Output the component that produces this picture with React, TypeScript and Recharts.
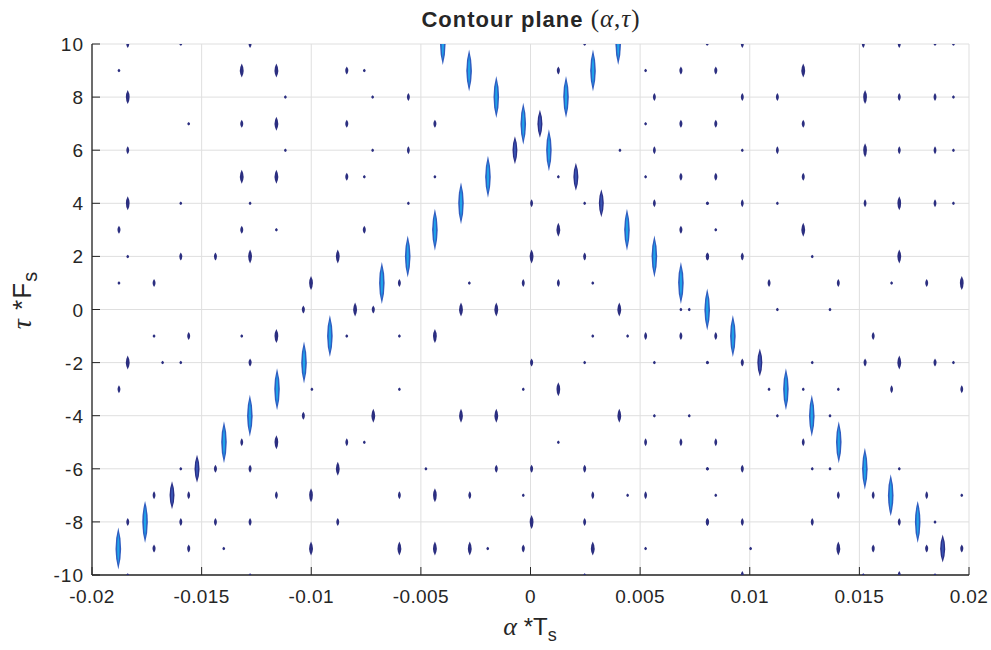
import React from 'react';
import { ScatterChart, Scatter, XAxis, YAxis, CartesianGrid } from 'recharts';

// ── Ejes ──────────────────────────────────────────────────────────────────────
const X_TICKS = [-0.02, -0.015, -0.01, -0.005, 0, 0.005, 0.01, 0.015, 0.02];
const Y_TICKS = [-10, -8, -6, -4, -2, 0, 2, 4, 6, 8, 10];

// ── Contornos [alpha*Ts, tau*Fs] ─────────────────────────────────────────────
// picos grandes (azul claro) sobre la "V"
const ridgeBright: [number, number][] = [
  [-0.0188, -9], [-0.01758, -8], [-0.01398, -5], [-0.0128, -4], [-0.01156, -3],
  [-0.01033, -2], [-0.00915, -1], [-0.00678, 1], [-0.0056, 2], [-0.00436, 3],
  [-0.00317, 4], [-0.00194, 5], [-0.00033, 7], [-0.00156, 8], [-0.0028, 9], [-0.004, 10],
  [0.00084, 6], [0.0044, 3], [0.00565, 2], [0.00686, 1], [0.00806, 0], [0.00923, -1],
  [0.01165, -3], [0.01283, -4], [0.01406, -5], [0.01525, -6], [0.01643, -7], [0.01766, -8],
  [0.00162, 8], [0.00285, 9], [0.004, 10],
];

// picos oscuros más cortos
const ridgeDark: [number, number][] = [
  [-0.01635, -7], [-0.01521, -6], [-0.00071, 6], [0.00043, 7],
  [0.00207, 5], [0.00323, 4], [0.01046, -2], [0.0188, -9],
];

const mediumMarks: [number, number][] = [
  [-0.01317, 9], [-0.01159, 9], [-0.01837, 8], [-0.01159, 7], [-0.01317, 5], [-0.01159, 5],
  [-0.01837, 4], [-0.01279, 2], [-0.00879, 2], [-0.01001, 1], [-0.008, 0],
  [0.00005, 2], [0.00127, 3],
  [-0.00317, 0], [-0.00156, 0], [0.00405, 0], [-0.00436, -1], [0.00127, -3],
  [-0.00317, -4], [-0.00156, -4], [0.00405, -4], [-0.00436, -7], [0.00005, -8],
  [-0.00598, -9], [-0.00436, -9], [-0.00277, -9], [0.00284, -9],
  [-0.01159, -1], [-0.01837, -2], [-0.00717, -4], [-0.01159, -5], [-0.00879, -6],
  [-0.01001, -7], [-0.01001, -9],
  [0.01244, 9], [0.01526, 8], [0.01526, 6], [0.01682, 4], [0.01244, 3], [0.01682, 2],
  [0.01967, 1], [0.01682, -2], [0.01404, -9],
];

const smallMarks: [number, number][] = [
  [-0.01837, 10], [-0.01279, 10], [-0.00838, 9], [-0.00838, 7], [-0.01317, 7], [-0.01837, 6],
  [-0.00838, 5], [-0.01877, 3], [-0.01317, 3], [-0.00758, 3], [-0.01595, 2], [-0.01437, 2],
  [-0.01717, 1], [-0.01036, 0], [-0.00717, 0],
  [0.00127, 9], [0.00686, 9], [-0.00557, 8], [0.00565, 8], [-0.00436, 7], [0.00686, 7],
  [-0.00557, 6], [0.00565, 6], [0.00686, 5], [0.00005, 4], [0.00565, 4], [0.00686, 3],
  [0.00247, 2], [0.00808, 2], [-0.00598, 1], [-0.00033, 1], [0.00127, 1],
  [0.00525, -1], [0.00686, -1], [0.00005, -2], [0.00525, -5], [0.00686, -5],
  [-0.00156, -6], [0.00005, -6], [0.00247, -6], [-0.00598, -7], [-0.00277, -7],
  [0.00284, -7], [0.00525, -7], [0.00247, -8], [0.00808, -8], [-0.00033, -9],
  [-0.01559, -1], [-0.01279, -2], [-0.01877, -3], [-0.01036, -4], [-0.01317, -5],
  [-0.00838, -5], [-0.01437, -6], [-0.01279, -6], [-0.01717, -7], [-0.01559, -7],
  [-0.01159, -7], [-0.01837, -8], [-0.01595, -8], [-0.01437, -8], [-0.01279, -8],
  [-0.00879, -8], [-0.01717, -9], [-0.01559, -9],
  [0.00966, 10], [0.01518, 10], [0.01682, 10], [0.00845, 9], [0.00966, 8], [0.01126, 8],
  [0.01682, 8], [0.01845, 8], [0.00845, 7], [0.01244, 7], [0.01126, 6], [0.01682, 6],
  [0.01845, 6], [0.00845, 5], [0.01244, 5], [0.00966, 4], [0.01526, 4], [0.01845, 4],
  [0.00806, 2], [0.00966, 2], [0.01088, 1], [0.01404, 1], [0.01807, 1],
  [0.00845, -1], [0.01563, -1], [0.00966, -2], [0.01526, -2], [0.01845, -2],
  [0.01647, -3], [0.01967, -3], [0.00845, -5], [0.01244, -5], [0.00966, -6],
  [0.01404, -7], [0.01563, -7], [0.01807, -7], [0.00806, -8], [0.00966, -8],
  [0.01285, -8], [0.01682, -8], [0.01563, -9], [0.01807, -9], [0.01967, -9],
  [0.00966, -10], [0.01682, -10],
];

const tinyMarks: [number, number][] = [
  [-0.01595, 10], [-0.01877, 9], [-0.00758, 9], [-0.01118, 8], [-0.0072, 8], [-0.01559, 7],
  [-0.01118, 6], [-0.0072, 6], [-0.00758, 5], [-0.01595, 4], [-0.01279, 4], [-0.01159, 3],
  [-0.01837, 2], [-0.01877, 1],
  [0.00247, 10], [0.00525, 9], [0.00525, 7], [0.00408, 6], [-0.00436, 5], [0.00127, 5],
  [0.00525, 5], [-0.00557, 4], [0.00247, 4], [0.00808, 4], [-0.00279, 1], [0.00284, 1],
  [0.00686, 0], [0.00724, 0], [-0.00598, -1], [0.00284, -1], [0.00443, -1],
  [0.00247, -2], [0.00565, -2], [0.00808, -2], [-0.00598, -3], [-0.00033, -3],
  [0.00565, -4], [0.00724, -4], [0.00127, -5], [-0.00477, -6], [0.00808, -6],
  [-0.00033, -7], [0.00443, -7], [-0.00195, -9], [0.00525, -9], [0.00247, -10],
  [-0.01717, -1], [-0.01317, -1], [-0.00838, -1], [-0.01678, -2], [-0.01595, -2],
  [-0.00997, -3], [-0.00758, -5], [-0.01595, -6], [-0.01399, -9], [-0.01837, -10],
  [-0.01279, -10],
  [0.00806, 10], [0.01845, 10], [0.01929, 10], [0.01929, 8], [0.00966, 6], [0.01929, 6],
  [0.00806, 4], [0.01126, 4], [0.01929, 4], [0.00845, 3], [0.01285, 2], [0.01647, 1],
  [0.01126, 0], [0.01366, 0],
  [0.00806, -2], [0.01285, -2], [0.01929, -2], [0.01088, -3], [0.01244, -3], [0.01404, -3],
  [0.01126, -4], [0.01366, -4], [0.00806, -6], [0.01285, -6], [0.01366, -6], [0.01682, -6],
  [0.00845, -7], [0.01967, -7], [0.01845, -8], [0.01004, -9], [0.01518, -10], [0.01845, -10],
];

const toPts = (arr: [number, number][]) => arr.map(([a, t]) => ({ a, t }));

const AXIS_COLOR = '#262626';
const NAVY = '#2b2e80';
const SANS = '"Liberation Sans", Arial, Helvetica, sans-serif';
const SERIF = '"Liberation Serif", "DejaVu Serif", serif';

// ── Formas (lentes verticales) ───────────────────────────────────────────────
const lensPath = (cx: number, cy: number, h: number, w: number) =>
  `M${cx},${cy - h / 2} Q${cx + w},${cy} ${cx},${cy + h / 2} Q${cx - w},${cy} ${cx},${cy - h / 2} Z`;

const makeShape = (h: number, w: number, fill: string, inner?: string) => (p: any) => (
  <g>
    <path d={lensPath(p.cx, p.cy, h, w)} fill={fill} />
    {inner && <path d={lensPath(p.cx, p.cy, h * 0.75, w * 0.42)} fill={inner} />}
  </g>
);

const fmtX = (v: number) => String(v);

// ticks hacia dentro, estilo MATLAB
const BottomTick = (p: any) => (
  <g>
    <line x1={p.x} x2={p.x} y1={p.y} y2={p.y - 8} stroke={AXIS_COLOR} />
    <text x={p.x} y={p.y + 28} textAnchor="middle" fontSize={19} fill={AXIS_COLOR} fontFamily={SANS} letterSpacing={0.4}>
      {fmtX(p.payload.value)}
    </text>
  </g>
);
const LeftTick = (p: any) => (
  <g>
    <line x1={p.x} x2={p.x + 8} y1={p.y} y2={p.y} stroke={AXIS_COLOR} />
    <text x={p.x - 8} y={p.y + 7} textAnchor="end" fontSize={19} fill={AXIS_COLOR} fontFamily={SANS} letterSpacing={1}>
      {p.payload.value}
    </text>
  </g>
);
const TopTick = (p: any) => <line x1={p.x} x2={p.x} y1={p.y} y2={p.y + 8} stroke={AXIS_COLOR} />;
const RightTick = (p: any) => <line x1={p.x} x2={p.x - 8} y1={p.y} y2={p.y} stroke={AXIS_COLOR} />;

export default function App() {
  return (
    <div style={{ position: 'absolute', left: 0, top: 0, width: 991, height: 650, background: '#fff', fontFamily: SANS, color: AXIS_COLOR }}>
      <ScatterChart width={991} height={650} margin={{ top: 44, right: 22, bottom: 40, left: 32 }}>
        <CartesianGrid stroke="#dfdfdf" strokeWidth={1} />
        <XAxis
          dataKey="a" type="number" domain={[-0.02, 0.02]} ticks={X_TICKS} interval={0}
          allowDataOverflow height={35} tickSize={0} tickMargin={0} tickLine={false}
          tick={<BottomTick />} stroke={AXIS_COLOR} strokeWidth={1.3}
        />
        <XAxis
          xAxisId="top" orientation="top" dataKey="a" type="number" domain={[-0.02, 0.02]}
          ticks={X_TICKS} interval={0} height={0} tickSize={0} tickMargin={0} tickLine={false}
          tick={<TopTick />} stroke={AXIS_COLOR} strokeWidth={1.3}
        />
        <YAxis
          dataKey="t" type="number" domain={[-10, 10]} ticks={Y_TICKS} interval={0}
          allowDataOverflow width={60} tickSize={0} tickMargin={0} tickLine={false}
          tick={<LeftTick />} stroke={AXIS_COLOR} strokeWidth={1.3}
        />
        <YAxis
          yAxisId="right" orientation="right" dataKey="t" type="number" domain={[-10, 10]}
          ticks={Y_TICKS} interval={0} width={0} tickSize={0} tickMargin={0} tickLine={false}
          tick={<RightTick />} stroke={AXIS_COLOR} strokeWidth={1.3}
        />
        <Scatter data={toPts(tinyMarks)} shape={makeShape(3.5, 2.8, NAVY)} isAnimationActive={false} />
        <Scatter data={toPts(smallMarks)} shape={makeShape(8, 3, NAVY)} isAnimationActive={false} />
        <Scatter data={toPts(mediumMarks)} shape={makeShape(14, 3.8, NAVY)} isAnimationActive={false} />
        <Scatter data={toPts(ridgeDark)} shape={makeShape(28, 5, '#2a2f86', '#3a55b4')} isAnimationActive={false} />
        <Scatter data={toPts(ridgeBright)} shape={makeShape(42, 5.6, '#2f5cc0', '#1fa4ea')} isAnimationActive={false} />
      </ScatterChart>

      <div style={{ position: 'absolute', left: 531, top: 5, transform: 'translateX(-50%)', whiteSpace: 'nowrap', fontSize: 22, fontWeight: 'bold', letterSpacing: 1 }}>
        Contour plane{' '}
        <span style={{ fontFamily: SERIF, fontWeight: 'normal', fontSize: 25 }}>
          (<i>α</i>,<i>τ</i>)
        </span>
      </div>

      <div style={{ position: 'absolute', left: 530, top: 612, transform: 'translateX(-50%)', whiteSpace: 'nowrap', fontSize: 24 }}>
        <i style={{ fontFamily: SERIF, fontSize: 26 }}>α</i> *T<sub style={{ fontSize: 18 }}>s</sub>
      </div>

      <div style={{ position: 'absolute', left: 24, top: 300, transform: 'translate(-50%, -50%) rotate(-90deg)', whiteSpace: 'nowrap', fontSize: 26, letterSpacing: 1 }}>
        <i style={{ fontFamily: SERIF, fontSize: 28 }}>τ</i> *F<sub style={{ fontSize: 20 }}>s</sub>
      </div>
    </div>
  );
}
